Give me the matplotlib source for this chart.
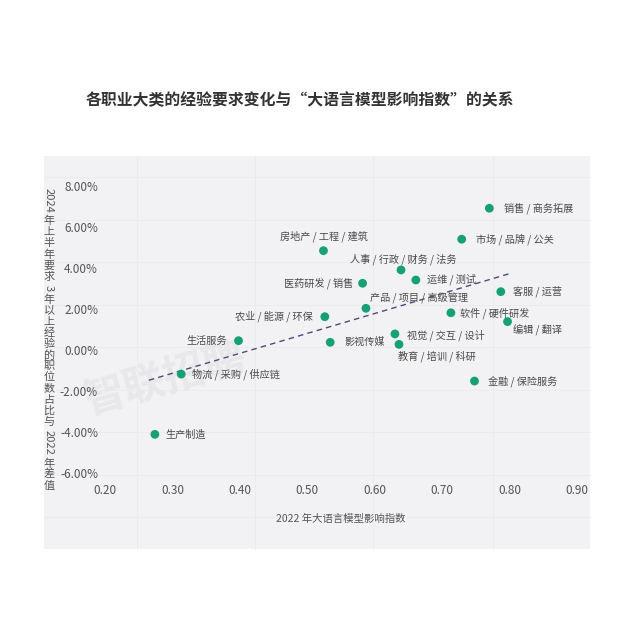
import numpy as np
import matplotlib
matplotlib.use("Agg")
import matplotlib.pyplot as plt
from matplotlib.lines import Line2D
from matplotlib.patches import Rectangle
from matplotlib.transforms import IdentityTransform

plt.rcParams['font.family'] = ['Noto Sans CJK SC', 'DejaVu Sans']

# data
jobs = ["销售 / 商务拓展", "市场 / 品牌 / 公关", "房地产 / 工程 / 建筑", "人事 / 行政 / 财务 / 法务",
        "医药研发 / 销售", "运维 / 测试", "客服 / 运营", "产品 / 项目 / 高级管理",
        "农业 / 能源 / 环保", "软件 / 硬件研发", "编辑 / 翻译", "生活服务",
        "影视传媒", "视觉 / 交互 / 设计", "教育 / 培训 / 科研", "物流 / 采购 / 供应链",
        "金融 / 保险服务", "生产制造"]
llm_index = [0.770, 0.729, 0.524, 0.639, 0.582, 0.661, 0.787, 0.587, 0.526,
             0.713, 0.797, 0.398, 0.534, 0.630, 0.636, 0.313, 0.748, 0.274]
exp_change = [6.90, 5.39, 4.83, 3.89, 3.24, 3.40, 2.83, 2.02, 1.61,
              1.80, 1.37, 0.44, 0.36, 0.77, 0.26, -1.19, -1.53, -4.13]

x_ticks = [0.2, 0.3, 0.4, 0.5, 0.6, 0.7, 0.8, 0.9]
y_ticks = [-6, -4, -2, 0, 2, 4, 6, 8]
trend_x = [0.265, 0.80]

title = "各职业大类的经验要求变化与“大语言模型影响指数”的关系"
x_label = "2022 年大语言模型影响指数"
y_label_parts = ["2024", " ", "年", "上", "半", "年", "要", "求", " ", "3", " ",
                 "年", "以", "上", "经", "验", "的", "职", "位", "数", "占", "比", "与",
                 " ", "2022", " ", "年", "差", "值"]

# label placement in pixels: dx, dy, ha
placement = {
    "销售 / 商务拓展": (15, 0, "left"),
    "市场 / 品牌 / 公关": (14, 0, "left"),
    "房地产 / 工程 / 建筑": (0, 14, "center"),
    "人事 / 行政 / 财务 / 法务": (2, 11, "center"),
    "医药研发 / 销售": (-9, 0, "right"),
    "运维 / 测试": (11, 1, "left"),
    "客服 / 运营": (12, 0, "left"),
    "产品 / 项目 / 高级管理": (4, 10, "left"),
    "农业 / 能源 / 环保": (-12, 0, "right"),
    "软件 / 硬件研发": (9, 0, "left"),
    "编辑 / 翻译": (5, -9, "left"),
    "生活服务": (-12, 0, "right"),
    "影视传媒": (14, 0, "left"),
    "视觉 / 交互 / 设计": (12, -1, "left"),
    "教育 / 培训 / 科研": (-1, -12, "left"),
    "物流 / 采购 / 供应链": (11, 0, "left"),
    "金融 / 保险服务": (13, 0, "left"),
    "生产制造": (11, 0, "left"),
}

W = H = 640
fig = plt.figure(figsize=(6.4, 6.4), dpi=100)
fig.patch.set_facecolor("white")

# grey panel behind the chart
fig.add_artist(Rectangle((44 / W, 1 - 549 / H), (590 - 44) / W, (549 - 156) / H,
                         transform=fig.transFigure, facecolor="#f2f2f4",
                         edgecolor="none", zorder=-2))
# faint background grid of the panel
for gy in np.arange(177, 549, 42.5):
    fig.add_artist(Line2D([44 / W, 590 / W], [1 - gy / H] * 2, color="#eaeaed",
                          lw=0.6, zorder=-1))
for gx in [137, 255, 373, 493]:
    fig.add_artist(Line2D([gx / W] * 2, [1 - 549 / H, 1 - 156 / H], color="#eaeaed",
                          lw=0.6, zorder=-1))

# watermark
fig.text(165 / W, 1 - 380 / H, "智联招聘", fontsize=30, fontweight="bold",
         color="#e8e8eb", rotation=16, ha="center", va="center", zorder=-1)

ax = fig.add_axes([105 / W, 1 - 472.7 / H, (577 - 105) / W, (472.7 - 185.7) / H])
ax.patch.set_visible(False)
for s in ax.spines.values():
    s.set_visible(False)

ax.set_xlim(0.2, 0.9)
ax.set_ylim(-6, 8)
ax.set_xticks(x_ticks)
ax.set_xticklabels([f"{v:.2f}" for v in x_ticks])
ax.set_yticks(y_ticks)
ax.set_yticklabels([f"{v:.2f}%" for v in y_ticks])
ax.tick_params(length=0, labelsize=8.5, labelcolor="#555555")
ax.tick_params(axis="x", pad=8)
ax.tick_params(axis="y", pad=5)

# trend line
coef = np.polyfit(llm_index, exp_change, 1)
tx = np.array(trend_x)
ax.plot(tx, np.polyval(coef, tx), ls=(0, (4, 3)), color="#4b4b78", lw=1.0, zorder=2)

ax.scatter(llm_index, exp_change, s=40, color="#16a075", edgecolors="none", zorder=3)

for name, x, y in zip(jobs, llm_index, exp_change):
    dx, dy, ha = placement[name]
    ax.annotate(name, (x, y), xytext=(dx * 0.72, dy * 0.72), textcoords="offset points",
                ha=ha, va="center", fontsize=7.3, color="#4a4a4a", zorder=4)

ax.set_xlabel(x_label, fontsize=7.5, color="#555555", labelpad=12)

fig.text(300 / W, 1 - 100 / H, title, fontsize=11.4, fontweight="heavy",
         color="#333333", ha="center", va="center")

# vertical y label: CJK upright, numbers rotated
renderer = fig.canvas.get_renderer()
fs = 8.0
fpx = fs * 100 / 72
ycur = H - 188
for part in y_label_parts:
    if part == " ":
        ycur -= fpx * 0.25
        continue
    latin = part.isascii()
    t = fig.text(49, 0, part, transform=IdentityTransform(), fontsize=fs,
                 color="#555555", ha="center", va="center",
                 rotation=-90 if latin else 0)
    if latin:
        adv = t.get_window_extent(renderer).height
    else:
        adv = fpx
    t.set_position((49, ycur - adv / 2))
    ycur -= adv

fig.savefig("out.png", dpi=100)
